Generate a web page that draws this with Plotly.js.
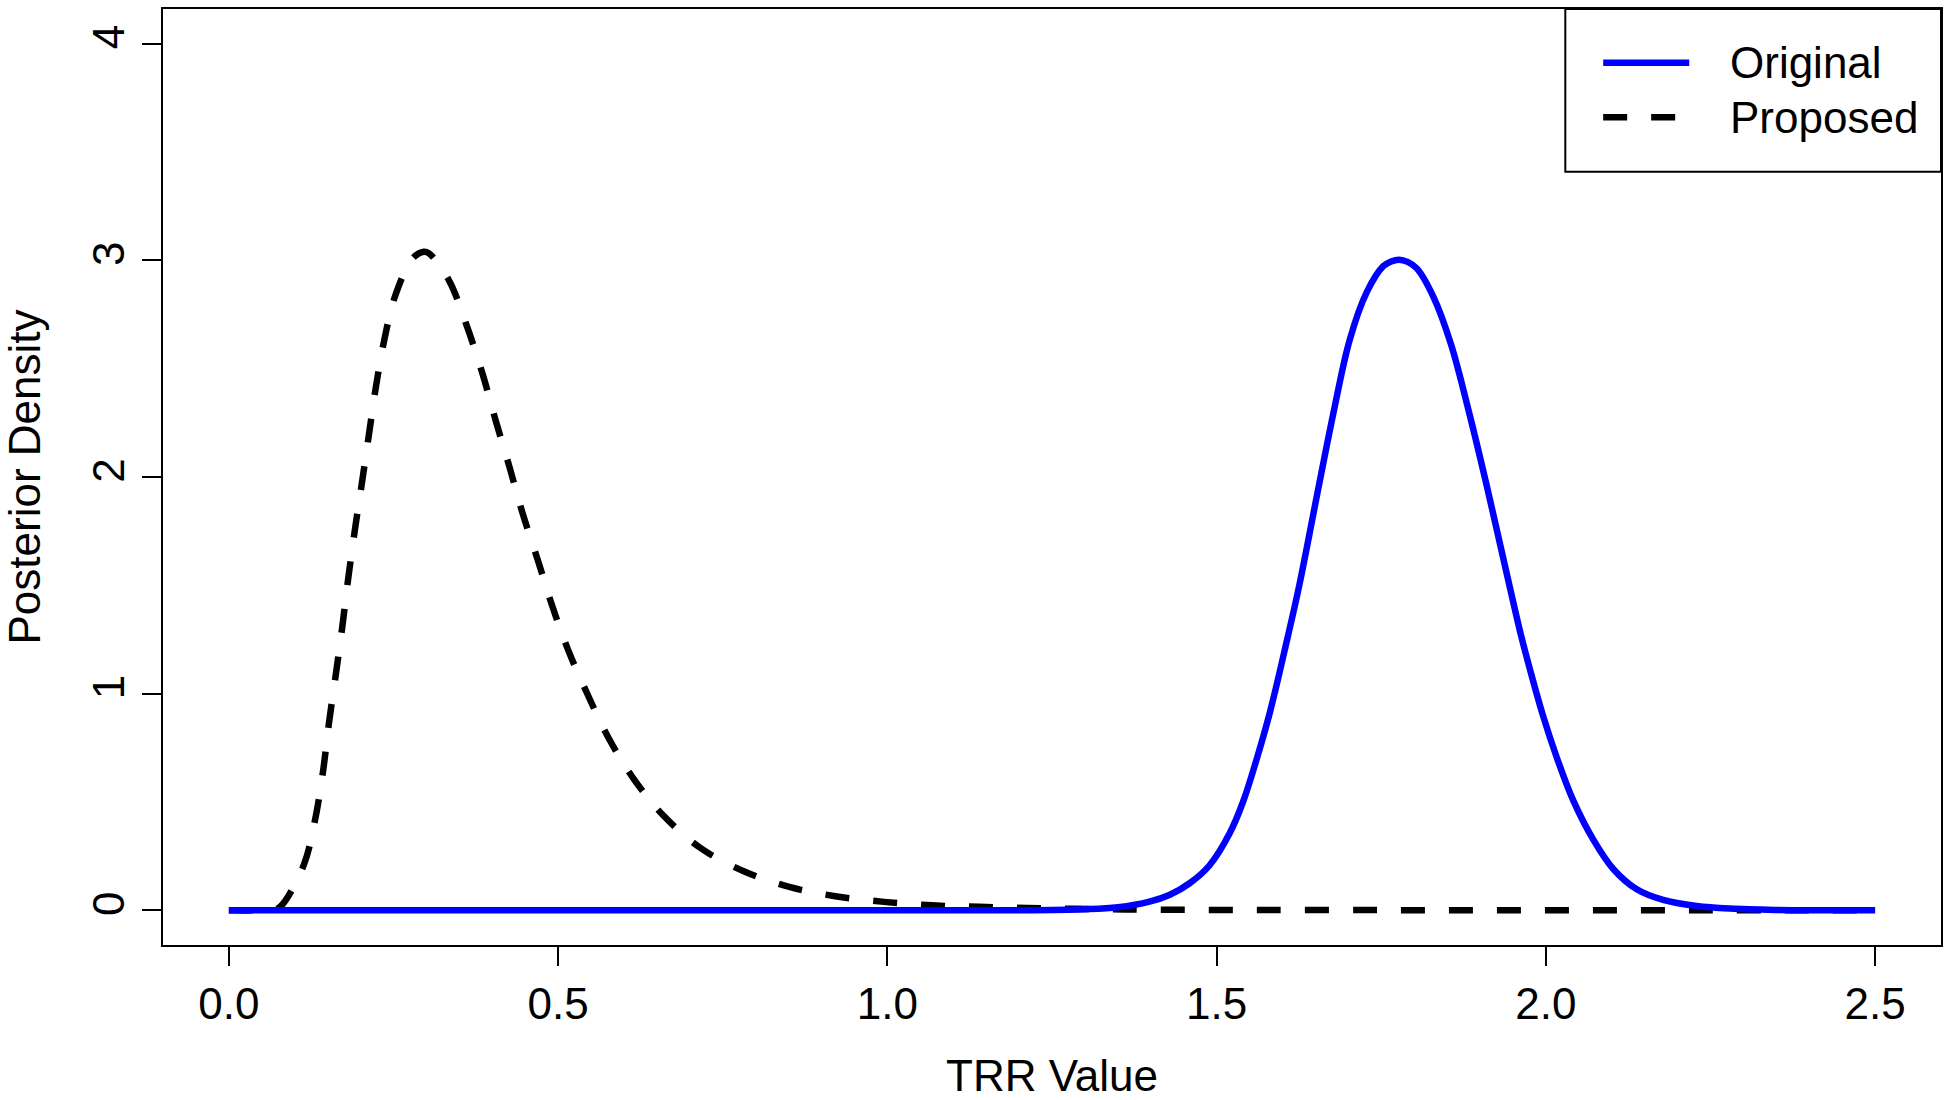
<!DOCTYPE html>
<html>
<head>
<meta charset="utf-8">
<script src="https://cdn.plot.ly/plotly-3.0.1.min.js"></script>
<style>
  html, body { margin: 0; padding: 0; background: #ffffff; }
  #chart { width: 1950px; height: 1100px; }
</style>
</head>
<body>
<div id="chart"></div>
<script>
// Posterior densities of the TRR value under the two models
const seriesNames = ['Original', 'Proposed'];

const originalX = [0, 0.5, 1.0, 1.2, 1.3, 1.35, 1.398, 1.429, 1.459, 1.489, 1.520, 1.540, 1.560, 1.581, 1.607,
  1.626, 1.652, 1.677, 1.702, 1.728, 1.753, 1.765, 1.777, 1.790, 1.804, 1.829, 1.856, 1.884, 1.911, 1.938,
  1.963, 1.976, 1.996, 2.016, 2.041, 2.072, 2.102, 2.138, 2.178, 2.229, 2.28, 2.35, 2.42, 2.5];
const originalY = [0, 0, 0, 0.0002, 0.005, 0.014, 0.040, 0.072, 0.125, 0.207, 0.357, 0.500, 0.690, 0.915, 1.249,
  1.507, 1.909, 2.290, 2.632, 2.853, 2.973, 2.995, 3.003, 2.993, 2.963, 2.833, 2.612, 2.290, 1.949, 1.588,
  1.260, 1.110, 0.895, 0.710, 0.511, 0.326, 0.192, 0.097, 0.048, 0.020, 0.008, 0.002, 0.0005, 0];

const proposedX = [0, 0.04, 0.07, 0.081, 0.114, 0.131, 0.143, 0.152, 0.162, 0.172, 0.181, 0.191, 0.202, 0.213,
  0.223, 0.236, 0.253, 0.279, 0.296, 0.304, 0.334, 0.360, 0.385, 0.405, 0.426, 0.446, 0.469, 0.491, 0.515,
  0.545, 0.576, 0.615, 0.661, 0.716, 0.782, 0.851, 0.921, 0.995, 1.068, 1.140, 1.213, 1.286, 1.36, 1.5,
  1.75, 2.0, 2.25, 2.5];
const proposedY = [0, 0, 0.003, 0.026, 0.211, 0.419, 0.641, 0.864, 1.079, 1.302, 1.525, 1.748, 1.971, 2.202,
  2.410, 2.632, 2.840, 3.009, 3.040, 3.032, 2.909, 2.709, 2.479, 2.263, 2.048, 1.833, 1.618, 1.406, 1.203,
  0.995, 0.799, 0.606, 0.434, 0.288, 0.180, 0.108, 0.065, 0.039, 0.023, 0.016, 0.011, 0.007, 0.004, 0.002,
  0.001, 0, 0, 0];

const xTickValues = [0, 0.5, 1.0, 1.5, 2.0, 2.5];
const xTickLabels = ['0.0', '0.5', '1.0', '1.5', '2.0', '2.5'];
const yTickValues = [0, 1, 2, 3, 4];
const yTickLabels = ['0', '1', '2', '3', '4'];

const FONT = 'Liberation Sans, Arial, Helvetica, sans-serif';
const BLUE = '#0000ff';
const BLACK = '#000000';
const LINE_W = 6.5;
const DASH = '24px,24px';

const traces = [
  {
    x: proposedX, y: proposedY, name: seriesNames[1], type: 'scatter', mode: 'lines',
    line: { color: BLACK, width: LINE_W, dash: DASH, shape: 'spline', smoothing: 1 },
    showlegend: false, hoverinfo: 'x+y'
  },
  {
    x: originalX, y: originalY, name: seriesNames[0], type: 'scatter', mode: 'lines',
    line: { color: BLUE, width: LINE_W, shape: 'spline', smoothing: 1 },
    showlegend: false, hoverinfo: 'x+y'
  }
];

// legend box in the top-right corner, drawn in paper coordinates
const legendBox = { x0: 0.7887, x1: 1.0, y0: 0.8262, y1: 1.0 };
const sampleX0 = 0.8100, sampleX1 = 0.8584, labelX = 0.8803;
const rowY = [0.9426, 0.8843];
const legendStyles = [
  { color: BLUE, dash: 'solid' },
  { color: BLACK, dash: DASH }
];

const shapes = [
  {
    type: 'rect', xref: 'paper', yref: 'paper',
    x0: legendBox.x0, x1: legendBox.x1, y0: legendBox.y0, y1: legendBox.y1,
    line: { color: BLACK, width: 2 }, fillcolor: '#ffffff', layer: 'above'
  }
];
const annotations = [];
seriesNames.forEach((name, i) => {
  shapes.push({
    type: 'line', xref: 'paper', yref: 'paper',
    x0: sampleX0, x1: sampleX1, y0: rowY[i], y1: rowY[i],
    line: { color: legendStyles[i].color, width: LINE_W, dash: legendStyles[i].dash }, layer: 'above'
  });
  annotations.push({
    xref: 'paper', yref: 'paper', x: labelX, y: rowY[i],
    xanchor: 'left', yanchor: 'middle', text: name, showarrow: false,
    font: { family: FONT, size: 44, color: BLACK }
  });
});

const axisCommon = {
  showgrid: false, zeroline: false,
  showline: true, mirror: true, linecolor: BLACK, linewidth: 2,
  ticks: 'outside', ticklen: 19, tickwidth: 2, tickcolor: BLACK,
  tickfont: { family: FONT, size: 44, color: BLACK },
  automargin: false
};

const layout = {
  width: 1950, height: 1100,
  paper_bgcolor: '#ffffff', plot_bgcolor: '#ffffff',
  margin: { l: 163, r: 9, t: 9, b: 155, pad: 0 },
  font: { family: FONT, size: 44, color: BLACK },
  showlegend: false,
  xaxis: Object.assign({}, axisCommon, {
    range: [-0.1, 2.6],
    tickmode: 'array', tickvals: xTickValues, ticktext: xTickLabels,
    title: { text: 'TRR Value', font: { family: FONT, size: 44, color: BLACK }, standoff: 34 }
  }),
  yaxis: Object.assign({}, axisCommon, {
    range: [-0.16, 4.16],
    tickmode: 'array', tickvals: yTickValues, ticktext: yTickLabels,
    tickangle: -90,
    title: { text: 'Posterior Density', font: { family: FONT, size: 44, color: BLACK }, standoff: 30 }
  }),
  shapes: shapes,
  annotations: annotations
};

Plotly.newPlot('chart', traces, layout, { displayModeBar: false, staticPlot: true });
</script>
</body>
</html>
